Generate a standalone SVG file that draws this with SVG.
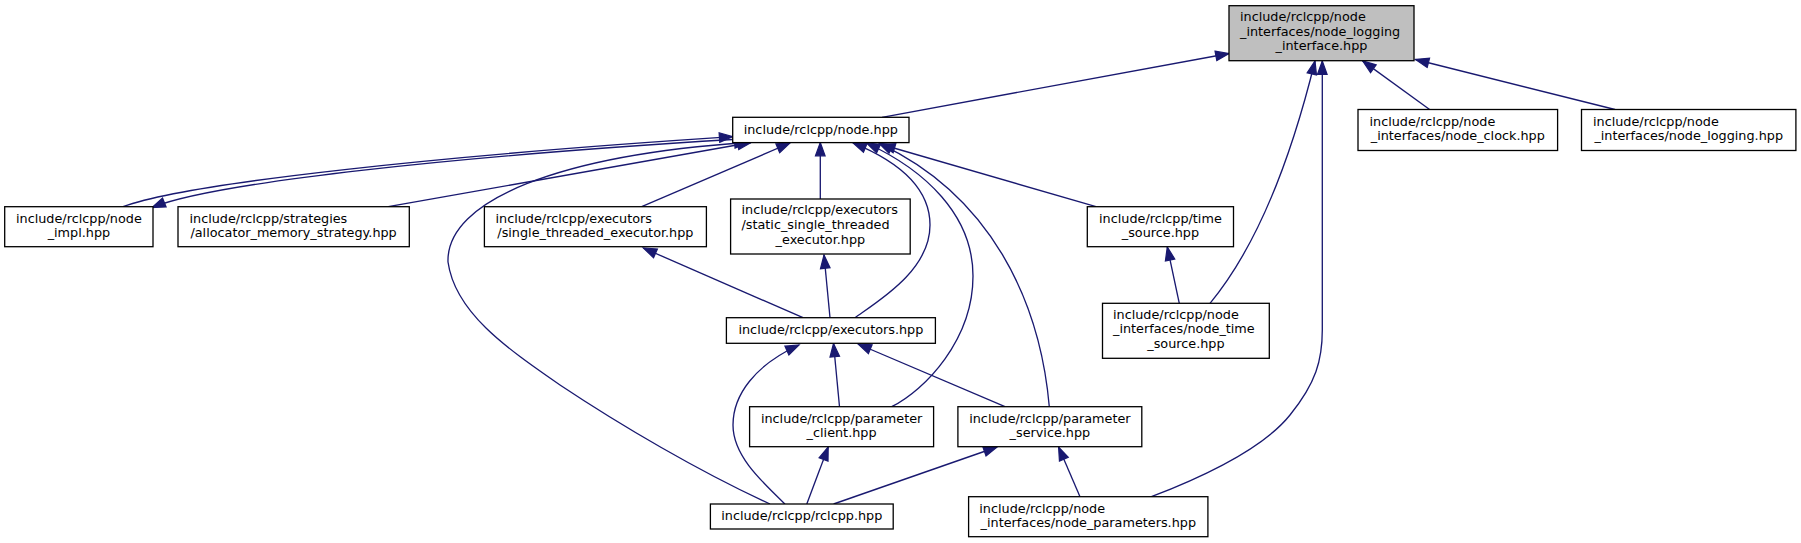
<svg xmlns="http://www.w3.org/2000/svg" width="1801" height="543" viewBox="0 0 1801 543">
<style>
.n rect{fill:#ffffff;stroke:#000000;stroke-width:1.3}
.root rect{fill:#bfbfbf}
text{font-family:"DejaVu Sans","Liberation Sans",sans-serif;font-size:12.8px;fill:#000000}
.m{text-anchor:middle}
.e path{fill:none;stroke:#191970;stroke-width:1.33;marker-end:url(#ah)}
</style>
<defs>
<marker id="ah" markerUnits="userSpaceOnUse" markerWidth="16" markerHeight="12" refX="13.3" refY="4.8" orient="auto" overflow="visible">
<path d="M0,0 L13.3,4.8 L0,9.6 Z" fill="#191970" stroke="#191970" stroke-width="1.2"/>
</marker>
</defs>
<rect width="1801" height="543" fill="#ffffff"/>
<g class="e" id="edges">
<path d="M882,117.3 L1229,53.5"/>
<path d="M1429.6,109.5 L1362.6,60.9"/>
<path d="M1615,109.5 L1415.5,59.5"/>
<path d="M1210,303.3 C1250,255 1287,175 1315,61"/>
<path d="M1151.4,496.7 C1200,478 1262,450 1290,415 C1316,383 1322.3,360 1322.3,330 L1322.3,61"/>
<path d="M123,206.7 C190,182 450,155 732.7,136.7"/>
<path d="M732.7,139.5 C460,156 215,182 152,207.5"/>
<path d="M388.3,206.7 L751,142.5"/>
<path d="M641.7,206.7 L790,143"/>
<path d="M820.3,199 L820.3,142.5"/>
<path d="M855,317.7 C880,300 930,270 930,225 C930,185 895,160 853,142.8"/>
<path d="M891.7,406.7 C925,390 973,340 973,276 C973,215 925,170 866.5,143"/>
<path d="M1049.3,406.7 C1040,300 990,195 879,143.3"/>
<path d="M1096,206.7 L881.7,144.5"/>
<path d="M770,504 C700,472 620,425 560,385 C505,347 455,312 448,262 C446,200 560,155 748,142.5"/>
<path d="M803,317.7 L643.3,248"/>
<path d="M830,317.7 L824,255"/>
<path d="M839.5,406.7 L833.5,343.5"/>
<path d="M1005,406.7 L858,344"/>
<path d="M785,504 C760,480 733,455 733,425 C733,395 755,365 799,345"/>
<path d="M806.8,504 L828.2,447"/>
<path d="M833.6,504 L997,447"/>
<path d="M1080,496.7 L1058.6,447"/>
<path d="M1179.3,303.3 L1167.3,247"/>
</g>
<g class="n root" id="node_logging_interface">
<rect x="1229" y="5.7" width="185" height="55"/>
<text x="1240" y="21">include/rclcpp/node</text>
<text x="1240" y="35.7">_interfaces/node_logging</text>
<text class="m" x="1321.5" y="50.4">_interface.hpp</text>
</g>
<g class="n" id="node_hpp">
<rect x="732.7" y="117.3" width="176.3" height="25.3"/>
<text class="m" x="820.8" y="133.8">include/rclcpp/node.hpp</text>
</g>
<g class="n" id="node_impl">
<rect x="4.7" y="206.7" width="148.3" height="40"/>
<text class="m" x="78.9" y="222.7">include/rclcpp/node</text>
<text class="m" x="78.9" y="237.4">_impl.hpp</text>
</g>
<g class="n" id="allocator_memory_strategy">
<rect x="178" y="206.7" width="231.3" height="40"/>
<text x="189.5" y="222.7">include/rclcpp/strategies</text>
<text class="m" x="293.6" y="237.4">/allocator_memory_strategy.hpp</text>
</g>
<g class="n" id="single_threaded_executor">
<rect x="484.4" y="206.7" width="222" height="40"/>
<text x="495.5" y="222.7">include/rclcpp/executors</text>
<text class="m" x="595.4" y="237.4">/single_threaded_executor.hpp</text>
</g>
<g class="n" id="static_single_threaded_executor">
<rect x="730.6" y="199" width="179.6" height="55"/>
<text x="741.5" y="214.3">include/rclcpp/executors</text>
<text x="741.5" y="229">/static_single_threaded</text>
<text class="m" x="820.4" y="243.7">_executor.hpp</text>
</g>
<g class="n" id="time_source">
<rect x="1087.3" y="206.7" width="146.2" height="40"/>
<text class="m" x="1160.4" y="222.7">include/rclcpp/time</text>
<text class="m" x="1160.4" y="237.4">_source.hpp</text>
</g>
<g class="n" id="node_clock">
<rect x="1358" y="109.5" width="199.6" height="41"/>
<text x="1369.5" y="125.5">include/rclcpp/node</text>
<text class="m" x="1457.8" y="140.2">_interfaces/node_clock.hpp</text>
</g>
<g class="n" id="node_logging">
<rect x="1581.5" y="109.5" width="214.4" height="41"/>
<text x="1593" y="125.5">include/rclcpp/node</text>
<text class="m" x="1688.7" y="140.2">_interfaces/node_logging.hpp</text>
</g>
<g class="n" id="executors">
<rect x="726.4" y="317.7" width="209" height="25.6"/>
<text class="m" x="830.9" y="334.2">include/rclcpp/executors.hpp</text>
</g>
<g class="n" id="node_time_source">
<rect x="1102.5" y="303.3" width="166.8" height="55"/>
<text x="1113" y="318.6">include/rclcpp/node</text>
<text x="1113" y="333.3">_interfaces/node_time</text>
<text class="m" x="1185.9" y="348">_source.hpp</text>
</g>
<g class="n" id="parameter_client">
<rect x="749.6" y="406.7" width="184" height="40"/>
<text class="m" x="841.6" y="422.7">include/rclcpp/parameter</text>
<text class="m" x="841.6" y="437.4">_client.hpp</text>
</g>
<g class="n" id="parameter_service">
<rect x="957.9" y="406.7" width="183.9" height="40"/>
<text class="m" x="1049.9" y="422.7">include/rclcpp/parameter</text>
<text class="m" x="1049.9" y="437.4">_service.hpp</text>
</g>
<g class="n" id="rclcpp">
<rect x="710.4" y="504" width="182.8" height="25"/>
<text class="m" x="801.8" y="520.3">include/rclcpp/rclcpp.hpp</text>
</g>
<g class="n" id="node_parameters">
<rect x="968.6" y="496.7" width="239.3" height="40"/>
<text x="979.3" y="512.7">include/rclcpp/node</text>
<text class="m" x="1088.3" y="527.4">_interfaces/node_parameters.hpp</text>
</g>
</svg>
